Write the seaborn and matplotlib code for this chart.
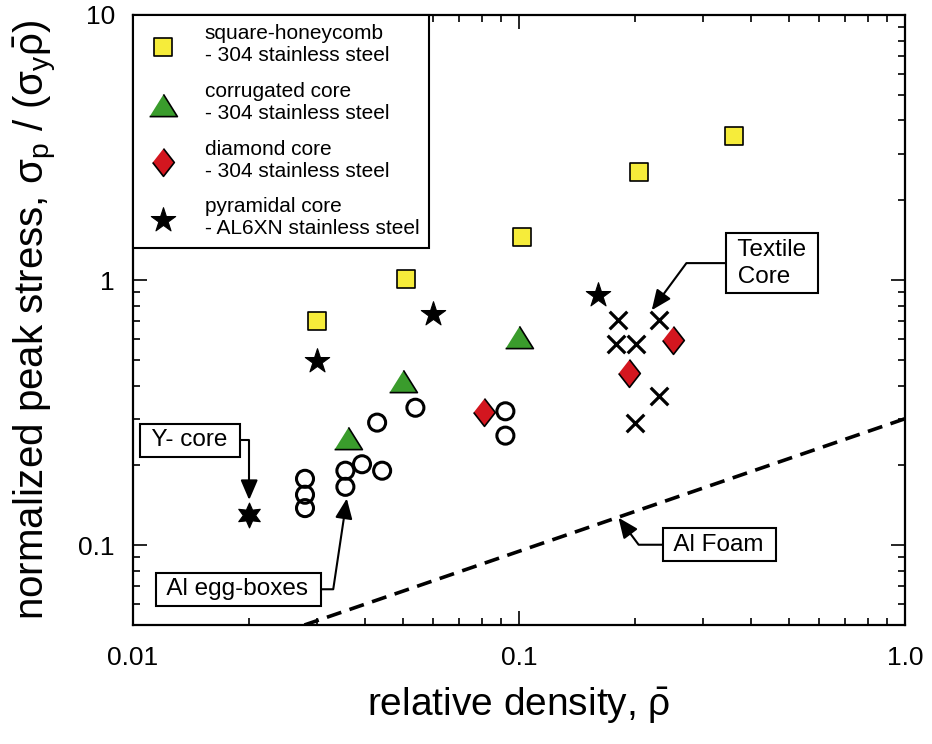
import matplotlib
matplotlib.use("Agg")
import matplotlib.pyplot as plt
import seaborn as sns

# ==========================================
# Data
# ==========================================

honeycomb_x = [0.030, 0.051, 0.102, 0.205, 0.36]
honeycomb_y = [0.70, 1.01, 1.46, 2.56, 3.50]

corrugated_x = [0.036, 0.050, 0.100]
corrugated_y = [0.254, 0.417, 0.609]

diamond_x = [0.081, 0.193, 0.250]
diamond_y = [0.317, 0.448, 0.594]

pyramidal_x = [0.030, 0.060, 0.160]
pyramidal_y = [0.496, 0.744, 0.878]

ycore_x = [0.020]
ycore_y = [0.130]

eggbox_x = [0.0279, 0.0279, 0.0279, 0.0355, 0.0355, 0.0392, 0.0442, 0.0429, 0.0539, 0.0922, 0.0922]
eggbox_y = [0.178, 0.155, 0.138, 0.191, 0.166, 0.202, 0.191, 0.290, 0.330, 0.320, 0.259]

textile_x = [0.180, 0.178, 0.201, 0.230, 0.230, 0.200]
textile_y = [0.706, 0.574, 0.574, 0.706, 0.365, 0.289]

foam_x = [0.0278, 1.0]
foam_y = [0.050, 0.300]

x_ticks = [0.01, 0.1, 1.0]
x_tick_labels = ["0.01", "0.1", "1.0"]
y_ticks = [0.1, 1, 10]
y_tick_labels = ["0.1", "1", "10"]

legend_labels = [
    "square-honeycomb\n- 304 stainless steel",
    "corrugated core\n- 304 stainless steel",
    "diamond core\n- 304 stainless steel",
    "pyramidal core\n- AL6XN stainless steel",
]

# ==========================================
# Style
# ==========================================

sns.set_theme(style="ticks")
plt.rcParams["font.family"] = ["Liberation Sans", "DejaVu Sans"]
plt.rcParams["mathtext.fontset"] = "custom"
plt.rcParams["mathtext.rm"] = "Liberation Sans"
plt.rcParams["mathtext.it"] = "Liberation Sans"
plt.rcParams["mathtext.bf"] = "Liberation Sans:bold"
plt.rcParams["lines.dashed_pattern"] = [4.2, 2.4]
for key in ["text.color", "axes.labelcolor", "xtick.color", "ytick.color", "axes.edgecolor"]:
    plt.rcParams[key] = "black"

yellow = "#F6EC3A"
green = "#3A9C2C"
red = "#D3161F"

fig = plt.figure(figsize=(9.32, 7.44), dpi=100)
ax = fig.add_axes([133 / 932, 1 - 625 / 744, 772 / 932, 610 / 744])
ax.set_xscale("log")
ax.set_yscale("log")

# ==========================================
# Series
# ==========================================

tri = [(-1, -0.8), (1, -0.8), (0, 0.8)]
dia = [(0, 1), (0.78, 0), (0, -1), (-0.78, 0)]

sns.lineplot(x=foam_x, y=foam_y, color="black", linestyle="--",
             linewidth=2.6, ax=ax, zorder=2)

sns.scatterplot(x=eggbox_x, y=eggbox_y, marker="o", s=150,
                facecolor="none", edgecolor="black", linewidth=2.2,
                ax=ax, zorder=3)
sns.scatterplot(x=textile_x, y=textile_y, marker="x", s=160,
                color="black", linewidth=2.3, ax=ax, zorder=3)
sns.scatterplot(x=ycore_x, y=ycore_y, marker=(6, 1, 0), s=320,
                color="black", edgecolor="black", linewidth=0.8,
                ax=ax, zorder=3)

sns.scatterplot(x=honeycomb_x, y=honeycomb_y, marker="s", s=150,
                color=yellow, edgecolor="black", linewidth=1.2,
                label=legend_labels[0], ax=ax, zorder=4)
sns.scatterplot(x=corrugated_x, y=corrugated_y, marker=tri, s=400,
                color=green, edgecolor="black", linewidth=1.2,
                label=legend_labels[1], ax=ax, zorder=4)
sns.scatterplot(x=diamond_x, y=diamond_y, marker=dia, s=400,
                color=red, edgecolor="black", linewidth=1.2,
                label=legend_labels[2], ax=ax, zorder=4)
sns.scatterplot(x=pyramidal_x, y=pyramidal_y, marker="*", s=340,
                color="black", edgecolor="black", linewidth=0.8,
                label=legend_labels[3], ax=ax, zorder=4)

# ==========================================
# Axes
# ==========================================

ax.set_xlim(0.01, 1.0)
ax.set_ylim(0.05, 10)
ax.set_xticks(x_ticks)
ax.set_xticklabels(x_tick_labels)
ax.set_yticks(y_ticks)
ax.set_yticklabels(y_tick_labels)

ax.tick_params(which="both", direction="in", top=True, right=True,
               width=1.2, colors="black")
ax.tick_params(which="major", length=10, labelsize=19)
ax.tick_params(which="minor", length=5)
ax.tick_params(axis="x", which="major", pad=15)
ax.tick_params(axis="y", which="major", pad=13)
for side in ax.spines.values():
    side.set_linewidth(1.6)

ax.set_xlabel(r"relative density, $\bar{\rho}$", fontsize=28, labelpad=11)
ax.set_ylabel(r"normalized peak stress, $\sigma_{\rm p}$ / ($\sigma_{\rm y}\bar{\rho}$)",
              fontsize=29, labelpad=14)

leg = ax.legend(loc="upper left", borderaxespad=0, fancybox=False,
                framealpha=1, edgecolor="black", fontsize=15,
                handlelength=2.0, handletextpad=1.0, labelspacing=0.8,
                borderpad=0.45)
leg.get_frame().set_linewidth(1.5)

# ==========================================
# Annotations
# ==========================================

notes = [
    (" Y- core ", (0.0200, 0.148), (0.01405, 0.249), 90),
    (" Al egg-boxes ", (0.0358, 0.150), (0.01874, 0.0682), 81.5),
    (" Textile \n Core", (0.2207, 0.770), (0.452, 1.159), 53.6),
    (" Al Foam ", (0.181, 0.1270), (0.330, 0.1004), 126.7),
]
for text, tip, pos, angle_b in notes:
    ax.annotate(
        text, xy=tip, xytext=pos, fontsize=17.5, ha="center", va="center",
        multialignment="left", linespacing=1.3,
        bbox=dict(boxstyle="square,pad=0.22", fc="white", ec="black", lw=1.5),
        arrowprops=dict(arrowstyle="-|>,head_length=0.7,head_width=0.3",
                        color="black", lw=1.5, shrinkA=0, shrinkB=0,
                        connectionstyle=f"angle,angleA=0,angleB={angle_b},rad=0"),
        zorder=5,
    )

fig.savefig("out.png", dpi=100)
